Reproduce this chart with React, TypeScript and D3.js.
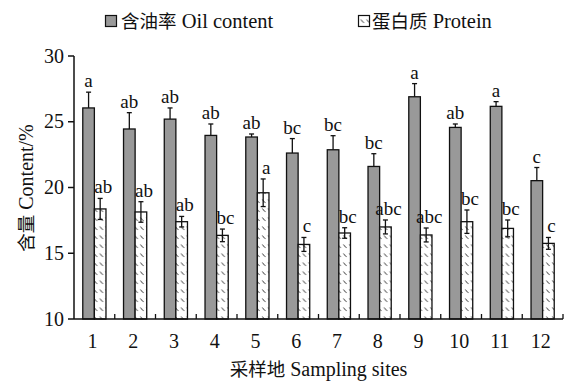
import React from "react";
import * as d3 from "d3";

const sites = ["1", "2", "3", "4", "5", "6", "7", "8", "9", "10", "11", "12"];
const oilContent = [26.05, 24.45, 25.2, 23.96, 23.84, 22.62, 22.87, 21.6, 26.9, 24.57, 26.17, 20.52];
const oilError = [1.2, 1.24, 0.85, 0.87, 0.23, 1.1, 1.07, 0.97, 1.0, 0.26, 0.36, 1.0];
const oilLetters = ["a", "ab", "ab", "ab", "ab", "bc", "bc", "bc", "a", "ab", "a", "c"];
const protein = [18.37, 18.14, 17.4, 16.36, 19.6, 15.67, 16.54, 17.0, 16.39, 17.4, 16.89, 15.75];
const proteinError = [0.8, 0.78, 0.4, 0.48, 1.05, 0.53, 0.4, 0.53, 0.53, 0.89, 0.64, 0.45];
const proteinLetters = ["ab", "ab", "ab", "bc", "a", "c", "bc", "abc", "abc", "bc", "bc", "c"];
const yTicks = [10, 15, 20, 25, 30];

const W = 566;
const H = 382;
const left = 74;
const right = 563;
const top = 56;
const bottom = 319;
const serif = "'Liberation Serif', 'DejaVu Serif', serif";
const cjk = "'Noto Sans CJK SC', sans-serif";

const txt = (size: number): React.CSSProperties => ({ fontFamily: serif, fontSize: size });
const han = (size: number): React.CSSProperties => ({ fontFamily: cjk, fontSize: size });

export default function App() {
  const x = d3.scaleBand<string>().domain(sites).range([left, right]);
  const y = d3.scaleLinear().domain([10, 30]).range([bottom, top]);
  const barW = 11.6;
  const bw = x.bandwidth();

  return (
    <svg
      width={W}
      height={H}
      style={{ position: "absolute", left: 0, top: 0, background: "#fff" }}
    >
      <defs>
        <pattern id="dash" patternUnits="userSpaceOnUse" width="5.8" height="9" x={0} y={0}>
          <rect width="5.8" height="9" fill="#fff" />
          <path d="M1.3,1.5 L3.4,4.2 L4.4,4.6" stroke="#222" strokeWidth="0.9" fill="none" />
        </pattern>
      </defs>

      {/* legend */}
      <rect x={105.5} y={15.5} width={11} height={11} fill="#999" stroke="#111" strokeWidth={1.2} />
      <text x={121} y={28} fill="#111" style={txt(20.5)}>
        <tspan style={han(18.5)}>含油率</tspan>
        <tspan> Oil content</tspan>
      </text>
      <rect x={358.5} y={15.5} width={11} height={11} fill="url(#dash)" stroke="#111" strokeWidth={1.2} />
      <text x={372} y={28} fill="#111" style={txt(20.5)}>
        <tspan style={han(18.5)}>蛋白质</tspan>
        <tspan> Protein</tspan>
      </text>

      {/* bars */}
      {sites.map((s, i) => {
        const cx = (x(s) as number) + bw / 2;
        const ox = cx - barW;
        const px = cx;
        const oTop = y(oilContent[i]);
        const oErr = y(oilContent[i] + oilError[i]);
        const pTop = y(protein[i]);
        const pErrHi = y(protein[i] + proteinError[i]);
        const pErrLo = y(protein[i] - proteinError[i]);
        const oc = ox + barW / 2;
        const pc = px + barW / 2;
        return (
          <g key={s}>
            <rect x={ox} y={oTop} width={barW} height={bottom - oTop} fill="#999" stroke="#111" strokeWidth={1.3} />
            <rect x={px} y={pTop} width={barW} height={bottom - pTop} fill="url(#dash)" stroke="#111" strokeWidth={1.3} />
            {/* error bars */}
            <g stroke="#111" strokeWidth={1.3}>
              <line x1={oc} x2={oc} y1={oTop} y2={oErr} />
              <line x1={oc - 2.5} x2={oc + 2.5} y1={oErr} y2={oErr} />
              <line x1={pc} x2={pc} y1={pErrLo} y2={pErrHi} />
              <line x1={pc - 2.5} x2={pc + 2.5} y1={pErrHi} y2={pErrHi} />
              <line x1={pc - 2.5} x2={pc + 2.5} y1={pErrLo} y2={pErrLo} />
            </g>
            <text x={oc} y={oErr - 5} textAnchor="middle" fill="#111" style={txt(19)}>
              {oilLetters[i]}
            </text>
            <text x={pc + 3} y={pErrHi - 5} textAnchor="middle" fill="#111" style={txt(19)}>
              {proteinLetters[i]}
            </text>
          </g>
        );
      })}

      {/* y axis */}
      <line x1={left} x2={left} y1={top} y2={bottom} stroke="#111" strokeWidth={1.5} />
      {yTicks.map((t) => (
        <g key={t}>
          <line x1={left - 6} x2={left} y1={y(t)} y2={y(t)} stroke="#111" strokeWidth={1.5} />
          <text x={left - 10} y={y(t) + 6.5} textAnchor="end" fill="#111" style={txt(20)}>
            {t}
          </text>
        </g>
      ))}

      {/* x axis */}
      <line x1={left} x2={right} y1={bottom} y2={bottom} stroke="#111" strokeWidth={1.5} />
      {sites.map((s) => (
        <line
          key={"t" + s}
          x1={(x(s) as number) + bw}
          x2={(x(s) as number) + bw}
          y1={bottom}
          y2={bottom - 5}
          stroke="#111"
          strokeWidth={1.3}
        />
      ))}
      {sites.map((s) => (
        <text key={"l" + s} x={(x(s) as number) + bw / 2 - 2} y={348} textAnchor="middle" fill="#111" style={txt(20)}>
          {s}
        </text>
      ))}

      {/* axis titles */}
      <text x={(left + right) / 2} y={376} textAnchor="middle" fill="#111" style={txt(20)}>
        <tspan style={han(18.5)}>采样地</tspan>
        <tspan> Sampling sites</tspan>
      </text>
      <text transform="translate(33,188) rotate(-90)" textAnchor="middle" fill="#111" style={txt(20)}>
        <tspan style={han(18.5)}>含量</tspan>
        <tspan> Content/%</tspan>
      </text>
    </svg>
  );
}
